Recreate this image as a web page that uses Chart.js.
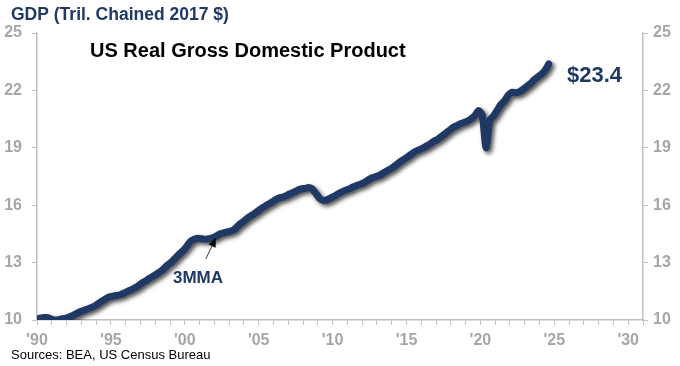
<!DOCTYPE html>
<html>
<head>
<meta charset="utf-8">
<script src="https://cdn.jsdelivr.net/npm/chart.js@4"></script>
<style>
  html, body { margin: 0; padding: 0; background: #fff; }
  #wrap { width: 680px; height: 366px; position: relative; }
</style>
</head>
<body>
<div id="wrap"><canvas id="gdpChart" width="680" height="366"></canvas></div>
<script>
// Real GDP, trillions of chained 2017 dollars, quarterly (3MMA), from 1990 Q1
const startYear = 1990;
const gdp = [
  10.08, 10.12, 10.13, 10.08,  // 1990
  10.00, 10.00, 10.05, 10.08,  // 1991
  10.14, 10.22, 10.32, 10.42,  // 1992
  10.50, 10.56, 10.64, 10.72,  // 1993
  10.85, 10.98, 11.10, 11.20,  // 1994
  11.25, 11.28, 11.32, 11.40,  // 1995
  11.50, 11.58, 11.68, 11.80,  // 1996
  11.95, 12.05, 12.18, 12.30,  // 1997
  12.42, 12.55, 12.72, 12.90,  // 1998
  13.05, 13.25, 13.45, 13.62,  // 1999
  13.85, 14.10, 14.22, 14.27,  // 2000
  14.25, 14.22, 14.25, 14.30,  // 2001
  14.38, 14.50, 14.55, 14.60,  // 2002
  14.65, 14.75, 14.95, 15.10,  // 2003
  15.25, 15.40, 15.52, 15.65,  // 2004
  15.80, 15.92, 16.05, 16.15,  // 2005
  16.28, 16.38, 16.42, 16.50,  // 2006
  16.60, 16.68, 16.78, 16.85,  // 2007
  16.88, 16.92, 16.85, 16.60,  // 2008
  16.35, 16.25, 16.28, 16.38,  // 2009
  16.48, 16.60, 16.70, 16.78,  // 2010
  16.85, 16.95, 17.03, 17.10,  // 2011
  17.18, 17.30, 17.42, 17.48,  // 2012
  17.55, 17.65, 17.78, 17.88,  // 2013
  18.00, 18.15, 18.30, 18.42,  // 2014
  18.55, 18.70, 18.82, 18.90,  // 2015
  19.00, 19.10, 19.22, 19.35,  // 2016
  19.45, 19.60, 19.75, 19.90,  // 2017
  20.05, 20.15, 20.25, 20.32,  // 2018
  20.40, 20.52, 20.68, 20.95,  // 2019
  20.70, 19.00, 20.45, 20.65,  // 2020
  20.95, 21.25, 21.45, 21.75,  // 2021
  21.90, 21.88, 21.92, 22.05,  // 2022
  22.20, 22.35, 22.55, 22.70,  // 2023
  22.85, 23.05, 23.38          // 2024
];
const yTicks = [10, 13, 16, 19, 22, 25];
const xLabelYears = [1990, 1995, 2000, 2005, 2010, 2015, 2020, 2025, 2030];

const navy = '#1f3864';
const gray = '#a6a6a6';
const axisGray = '#bfbfbf';

// quarter midpoints on a year axis
const points = gdp.map((v, i) => ({ x: startYear + i / 4 + 0.125, y: v }));

const shadowPlugin = {
  id: 'lineShadow',
  beforeDatasetsDraw(chart) {
    const c = chart.ctx;
    c.save();
    c.shadowColor = 'rgba(0,0,0,0.7)';
    c.shadowBlur = 4;
    c.shadowOffsetX = 2.5;
    c.shadowOffsetY = 2.5;
  },
  afterDatasetsDraw(chart) {
    chart.ctx.restore();
  }
};

const textPlugin = {
  id: 'annotations',
  afterDraw(chart) {
    const c = chart.ctx;
    const xs = chart.scales.x, ys = chart.scales.y;
    c.save();
    c.textBaseline = 'middle';
    c.textAlign = 'left';

    c.fillStyle = navy;
    c.font = 'bold 17.5px "Liberation Sans", Arial, sans-serif';
    c.fillText('GDP (Tril. Chained 2017 $)', 11, 15);

    c.fillStyle = '#000';
    c.font = 'bold 20px "Liberation Sans", Arial, sans-serif';
    c.fillText('US Real Gross Domestic Product', 90, 51);

    c.fillStyle = navy;
    c.font = 'bold 22px "Liberation Sans", Arial, sans-serif';
    c.fillText('$23.4', 567, 76);

    c.font = 'bold 17px "Liberation Sans", Arial, sans-serif';
    c.fillText('3MMA', 173, 278);

    c.fillStyle = '#000';
    c.font = '13px "Liberation Sans", Arial, sans-serif';
    c.fillText('Sources: BEA, US Census Bureau', 11, 355);

    // arrow pointing at the line near 2002
    const tipX = xs.getPixelForValue(2002.1), tipY = ys.getPixelForValue(14.55) + 5;
    const tailX = tipX - 10, tailY = tipY + 21;
    const ang = Math.atan2(tipY - tailY, tipX - tailX);
    c.strokeStyle = '#404040';
    c.lineWidth = 1;
    c.beginPath();
    c.moveTo(tailX, tailY);
    c.lineTo(tipX - 6 * Math.cos(ang), tipY - 6 * Math.sin(ang));
    c.stroke();
    c.fillStyle = '#000';
    c.beginPath();
    c.moveTo(tipX, tipY);
    c.lineTo(tipX - 9 * Math.cos(ang) + 4 * Math.sin(ang), tipY - 9 * Math.sin(ang) - 4 * Math.cos(ang));
    c.lineTo(tipX - 9 * Math.cos(ang) - 4 * Math.sin(ang), tipY - 9 * Math.sin(ang) + 4 * Math.cos(ang));
    c.closePath();
    c.fill();
    c.restore();
  }
};

const tickFont = { family: '"Liberation Sans", Arial, sans-serif', size: 16, weight: 'bold' };

const yAxis = (pos, pad) => ({
  type: 'linear',
  position: pos,
  min: 10,
  max: 25,
  afterBuildTicks: axis => { axis.ticks = yTicks.map(v => ({ value: v })); },
  ticks: { color: gray, font: tickFont, padding: pad },
  grid: { drawOnChartArea: false, drawTicks: true, tickLength: 5, color: axisGray },
  border: { color: axisGray, width: 1.5 },
  afterFit: axis => { axis.width = 37; }
});

new Chart(document.getElementById('gdpChart'), {
  type: 'line',
  data: {
    datasets: [{
      label: 'GDP',
      data: points,
      borderColor: navy,
      borderWidth: 7,
      borderCapStyle: 'round',
      borderJoinStyle: 'round',
      pointRadius: 0,
      tension: 0.2,
      fill: false
    }]
  },
  options: {
    responsive: false,
    animation: false,
    layout: { padding: { top: 33, left: 0, right: 0, bottom: 0 } },
    plugins: {
      legend: { display: false },
      tooltip: { enabled: false }
    },
    scales: {
      x: {
        type: 'linear',
        min: 1990,
        max: 2031,
        ticks: {
          stepSize: 1,
          autoSkip: false,
          maxRotation: 0,
          color: gray,
          font: tickFont,
          padding: 6,
          callback: v => xLabelYears.includes(v) ? "'" + String(v).slice(2) : ''
        },
        grid: { drawOnChartArea: false, drawTicks: true, tickLength: 5, color: axisGray },
        border: { color: axisGray, width: 1.5 },
        afterFit: axis => { axis.height = 46; }
      },
      y: yAxis('left', 10),
      y2: yAxis('right', 5)
    }
  },
  plugins: [shadowPlugin, textPlugin]
});
</script>
</body>
</html>
